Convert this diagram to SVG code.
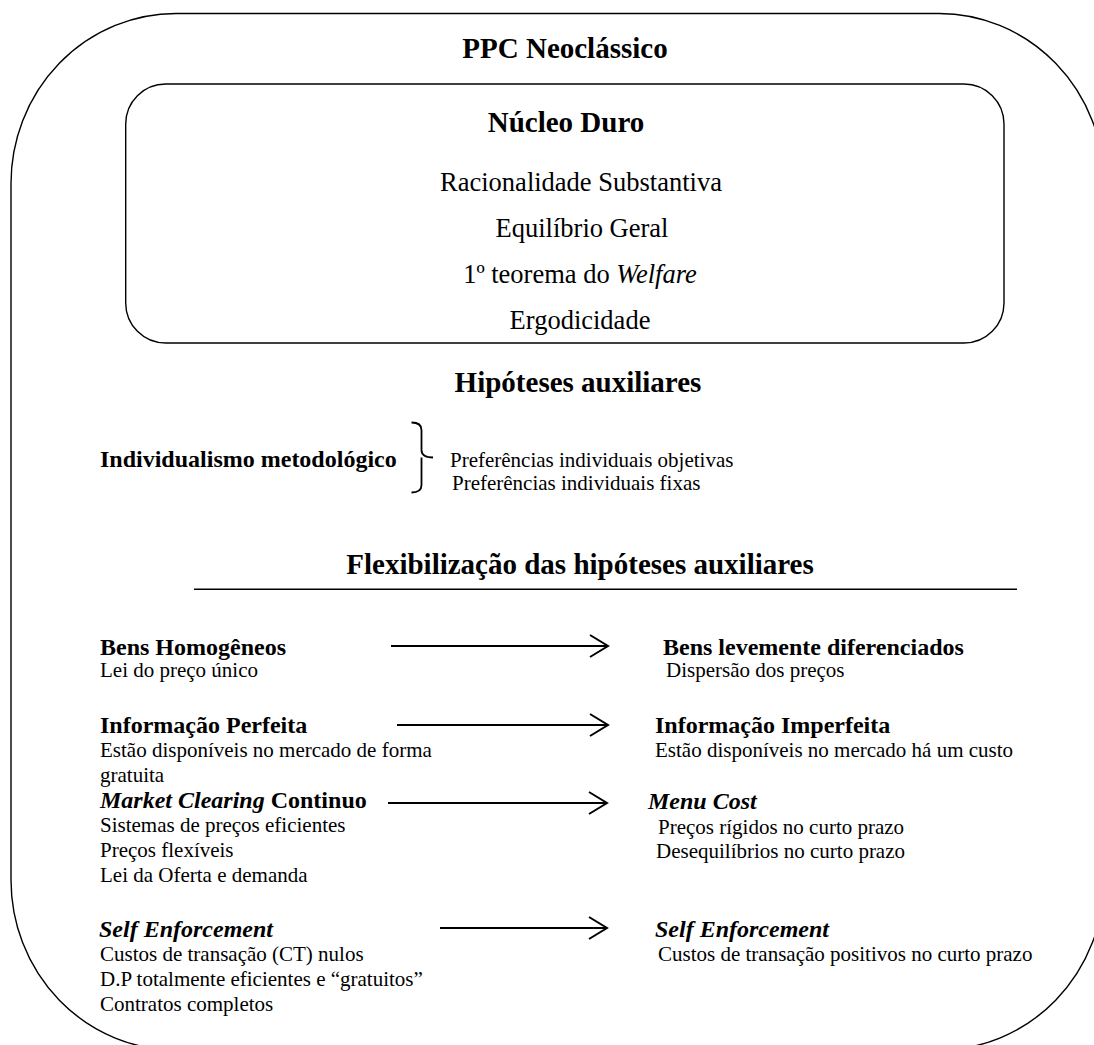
<svg xmlns="http://www.w3.org/2000/svg" width="1094" height="1045" viewBox="0 0 1094 1045" font-family="'Liberation Serif', 'Times New Roman', Times, serif">
<style>
text{font-family:'Liberation Serif','Times New Roman',Times,serif;fill:#000}
.h{font-size:29px;font-weight:bold;text-anchor:middle}
.core{font-size:26.5px;text-anchor:middle}
.sub{font-size:24px;font-weight:bold}
.b{font-size:21px}
.it{font-style:italic}
.shape{fill:none;stroke:#000;stroke-width:1.4}
.arrow{fill:none;stroke:#000;stroke-width:2}
</style>
<defs>
<marker id="chev" markerUnits="userSpaceOnUse" markerWidth="22" markerHeight="26" refX="19" refY="12" orient="auto">
<path d="M1,1 L19,12 L1,23" fill="none" stroke="#000" stroke-width="2"/>
</marker>
</defs>
<rect width="1094" height="1045" fill="#fff"/>
<g id="outer">
<path class="shape" d="M176,13.5 H939 A165,170 0 0 1 1104,183.5 V880 A165,170 0 0 1 939,1050 H176 A165,170 0 0 1 11,880 V183.5 A165,170 0 0 1 176,13.5 Z"/>
<text class="h" x="565" y="58">PPC Neoclássico</text>
</g>
<g id="nucleo-duro">
<rect class="shape" x="125.7" y="84" width="878.3" height="259" rx="40" ry="40"/>
<text class="h" x="566" y="132">Núcleo Duro</text>
<text class="core" x="581" y="191">Racionalidade Substantiva</text>
<text class="core" x="582" y="237">Equilíbrio Geral</text>
<text class="core" x="580" y="283">1º teorema do <tspan class="it">Welfare</tspan></text>
<text class="core" x="580" y="329">Ergodicidade</text>
</g>
<g id="hipoteses">
<text class="h" x="578" y="392">Hipóteses auxiliares</text>
</g>
<g id="individualismo">
<text class="sub" x="100" y="467">Individualismo metodológico</text>
<path class="arrow" style="stroke-width:1.8" d="M411.5,422.5 Q421.5,422.5 421.5,430 V450 Q421.5,457.5 433,457.5 M421.5,457.5 Q421.5,460 421.5,465 V485 Q421.5,492.5 411.5,492.5"/>
<text class="b" x="450" y="467">Preferências individuais objetivas</text>
<text class="b" x="452" y="490">Preferências individuais fixas</text>
</g>
<g id="flexibilizacao">
<text class="h" x="580" y="574">Flexibilização das hipóteses auxiliares</text>
<line x1="194" y1="589.3" x2="1017" y2="589.3" stroke="#000" stroke-width="1.6"/>
</g>
<g id="bens-homogeneos">
<text class="sub" x="100" y="655">Bens Homogêneos</text>
<text class="b" x="100" y="677">Lei do preço único</text>
</g>
<g id="bens-diferenciados">
<text class="sub" x="663" y="655">Bens levemente diferenciados</text>
<text class="b" x="666" y="677">Dispersão dos preços</text>
</g>
<g id="info-perfeita">
<text class="sub" x="100" y="733">Informação Perfeita</text>
<text class="b" x="100" y="757">Estão disponíveis no mercado de forma</text>
<text class="b" x="100" y="782">gratuita</text>
</g>
<g id="info-imperfeita">
<text class="sub" x="655" y="733">Informação Imperfeita</text>
<text class="b" x="655" y="757">Estão disponíveis no mercado há um custo</text>
</g>
<g id="market-clearing">
<text class="sub" x="100" y="808"><tspan class="it">Market Clearing</tspan> Continuo</text>
<text class="b" x="100" y="832">Sistemas de preços eficientes</text>
<text class="b" x="100" y="857">Preços flexíveis</text>
<text class="b" x="100" y="882">Lei da Oferta e demanda</text>
</g>
<g id="menu-cost">
<text class="sub it" x="648" y="809">Menu Cost</text>
<text class="b" x="658" y="834">Preços rígidos no curto prazo</text>
<text class="b" x="656" y="858">Desequilíbrios no curto prazo</text>
</g>
<g id="self-enforcement-left">
<text class="sub it" x="99" y="937">Self Enforcement</text>
<text class="b" x="100" y="961">Custos de transação (CT) nulos</text>
<text class="b" x="100" y="986">D.P totalmente eficientes e “gratuitos”</text>
<text class="b" x="100" y="1011">Contratos completos</text>
</g>
<g id="self-enforcement-right">
<text class="sub it" x="655" y="937">Self Enforcement</text>
<text class="b" x="658" y="961">Custos de transação positivos no curto prazo</text>
</g>
<g id="connectors">
<line class="arrow" x1="391" y1="646" x2="608" y2="646" marker-end="url(#chev)"/>
<line class="arrow" x1="397" y1="725" x2="608" y2="725" marker-end="url(#chev)"/>
<line class="arrow" x1="388" y1="803" x2="607" y2="803" marker-end="url(#chev)"/>
<line class="arrow" x1="440" y1="928" x2="607" y2="928" marker-end="url(#chev)"/>
</g>
</svg>
